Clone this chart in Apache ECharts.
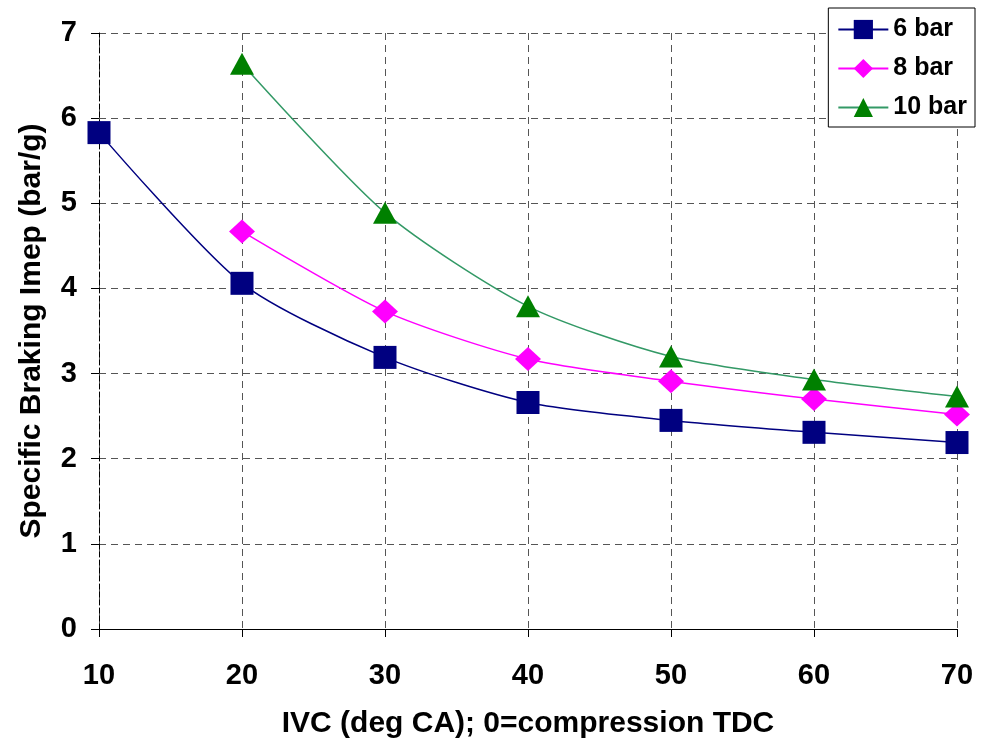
<!DOCTYPE html>
<html>
<head>
<meta charset="utf-8">
<script src="https://cdn.jsdelivr.net/npm/echarts@6/dist/echarts.min.js"></script>
<style>
  html, body { margin: 0; padding: 0; background: #fff; }
  #chart { width: 981px; height: 744px; }
</style>
</head>
<body>
<div id="chart"></div>
<script>
const ivc = [10, 20, 30, 40, 50, 60, 70]
const bar6 = [5.83, 4.06, 3.19, 2.66, 2.45, 2.31, 2.19]
const bar8 = [null, 4.67, 3.73, 3.17, 2.91, 2.70, 2.52]
const bar10 = [null, 6.64, 4.89, 3.79, 3.20, 2.93, 2.73]

const pairs = (ys) => ivc.map((x, i) => [x, ys[i]]).filter(p => p[1] != null)

const font = "'Liberation Sans', Arial, sans-serif"
const chart = echarts.init(document.getElementById("chart"))

chart.setOption({
  animation: false,
  textStyle: { fontFamily: font },
  grid: { left: 99, right: 24, top: 33, bottom: 114 },
  legend: {
    right: 6,
    top: 8,
    orient: "vertical",
    backgroundColor: "#fff",
    borderColor: "#000",
    borderWidth: 1,
    padding: [9, 8, 7, 9],
    itemGap: 14,
    itemWidth: 50,
    itemHeight: 24,
    textStyle: { fontSize: 25, fontWeight: "bold", color: "#000", fontFamily: font },
    data: ["6 bar", "8 bar", "10 bar"]
  },
  xAxis: {
    type: "value",
    min: 10,
    max: 70,
    interval: 10,
    name: "IVC (deg CA); 0=compression TDC",
    nameLocation: "middle",
    nameGap: 80,
    nameTextStyle: { fontSize: 30, fontWeight: "bold", color: "#000" },
    axisLine: { lineStyle: { color: "#000", width: 1 } },
    axisTick: { inside: false, length: 8, lineStyle: { color: "#000" } },
    axisLabel: { fontSize: 29, fontWeight: "bold", color: "#000", margin: 32 },
    splitLine: { show: true, lineStyle: { color: "#555", type: [7, 5], width: 1 } }
  },
  yAxis: {
    type: "value",
    min: 0,
    max: 7,
    interval: 1,
    name: "Specific Braking Imep (bar/g)",
    nameLocation: "middle",
    nameGap: 52,
    nameTextStyle: { fontSize: 30, fontWeight: "bold", color: "#000" },
    axisLine: { show: true, lineStyle: { color: "#000", width: 1, type: [5, 3] } },
    axisTick: { show: true, inside: false, length: 8, lineStyle: { color: "#000" } },
    axisLabel: { fontSize: 29, fontWeight: "bold", color: "#000", margin: 22 },
    splitLine: { show: true, lineStyle: { color: "#555", type: [7, 5], width: 1 } }
  },
  series: [
    {
      name: "6 bar",
      type: "line",
      smooth: 0.25,
      data: pairs(bar6),
      symbol: "rect",
      symbolSize: 23,
      lineStyle: { color: "#000080", width: 1.5 },
      itemStyle: { color: "#000080" }
    },
    {
      name: "8 bar",
      type: "line",
      smooth: 0.25,
      data: pairs(bar8),
      symbol: "diamond",
      symbolSize: [26, 24],
      lineStyle: { color: "#ff00ff", width: 1.5 },
      itemStyle: { color: "#ff00ff" }
    },
    {
      name: "10 bar",
      type: "line",
      smooth: 0.25,
      data: pairs(bar10),
      symbol: "triangle",
      symbolSize: [24, 22],
      lineStyle: { color: "#339966", width: 1.5 },
      itemStyle: { color: "#008000" }
    }
  ]
})
</script>
</body>
</html>
